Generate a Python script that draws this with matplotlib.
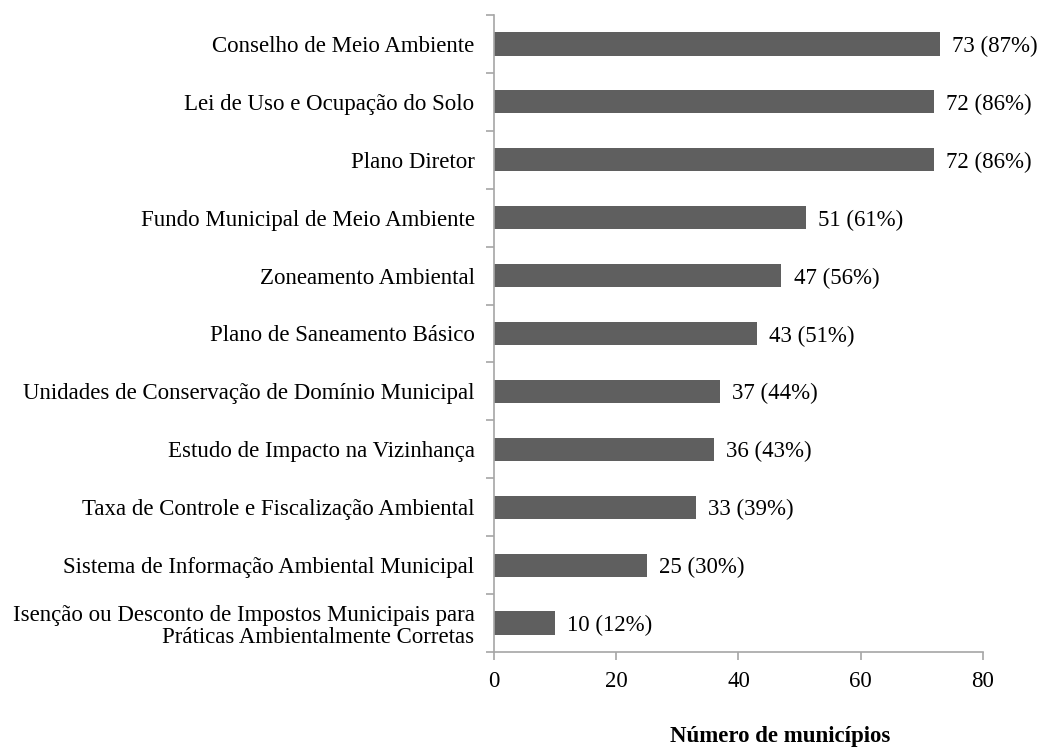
import numpy as np
import matplotlib
matplotlib.use("Agg")
from matplotlib import pyplot as plt

# categories top to bottom
categorias = [
    "Conselho de Meio Ambiente",
    "Lei de Uso e Ocupação do Solo",
    "Plano Diretor",
    "Fundo Municipal de Meio Ambiente",
    "Zoneamento Ambiental",
    "Plano de Saneamento Básico",
    "Unidades de Conservação de Domínio Municipal",
    "Estudo de Impacto na Vizinhança",
    "Taxa de Controle e Fiscalização Ambiental",
    "Sistema de Informação Ambiental Municipal",
    "Isenção ou Desconto de Impostos Municipais para\nPráticas Ambientalmente Corretas",
]
municipios = [73, 72, 72, 51, 47, 43, 37, 36, 33, 25, 10]
percentuais = [87, 86, 86, 61, 56, 51, 44, 43, 39, 30, 12]

plt.rcParams['font.family'] = ['Liberation Serif', 'DejaVu Serif']
axis_gray = "#a6a6a6"

fig = plt.figure(figsize=(10.43, 7.47), dpi=100)
ax = fig.add_axes([0.4736, 0.1272, 0.4689, 0.8527])

y = np.arange(len(categorias))
ax.barh(y, municipios, height=0.4, color="#5f5f5f")
for yi, v, p in zip(y, municipios, percentuais):
    ax.text(v + 2, yi, f"{v} ({p}%)", va="center_baseline", ha="left", fontsize=16.5)

ax.set_xlim(0, 80)
ax.set_ylim(len(categorias) - 0.5, -0.5)
ax.set_xticks([0, 20, 40, 60, 80])
ax.set_yticks(y)
ax.set_yticklabels(categorias, fontsize=16.5, ha="right", multialignment="right",
                   linespacing=1.1)
ax.tick_params(axis="y", which="major", length=0, pad=14)
ax.set_yticks(np.arange(-0.5, len(categorias), 1), minor=True)
ax.tick_params(axis="y", which="minor", length=6, color=axis_gray, width=1.2)
ax.tick_params(axis="x", labelsize=16.5, length=6, color=axis_gray, width=1.2, pad=8)

for s in ["top", "right"]:
    ax.spines[s].set_visible(False)
for s in ["left", "bottom"]:
    ax.spines[s].set_color(axis_gray)
    ax.spines[s].set_linewidth(1.2)

# axis title sits low and a bit right of the axes centre
fig.text(0.748, 0.0067, "Número de municípios", ha="center", va="baseline",
         fontsize=16.5, fontweight="bold")

fig.savefig("out.png", dpi=100)
